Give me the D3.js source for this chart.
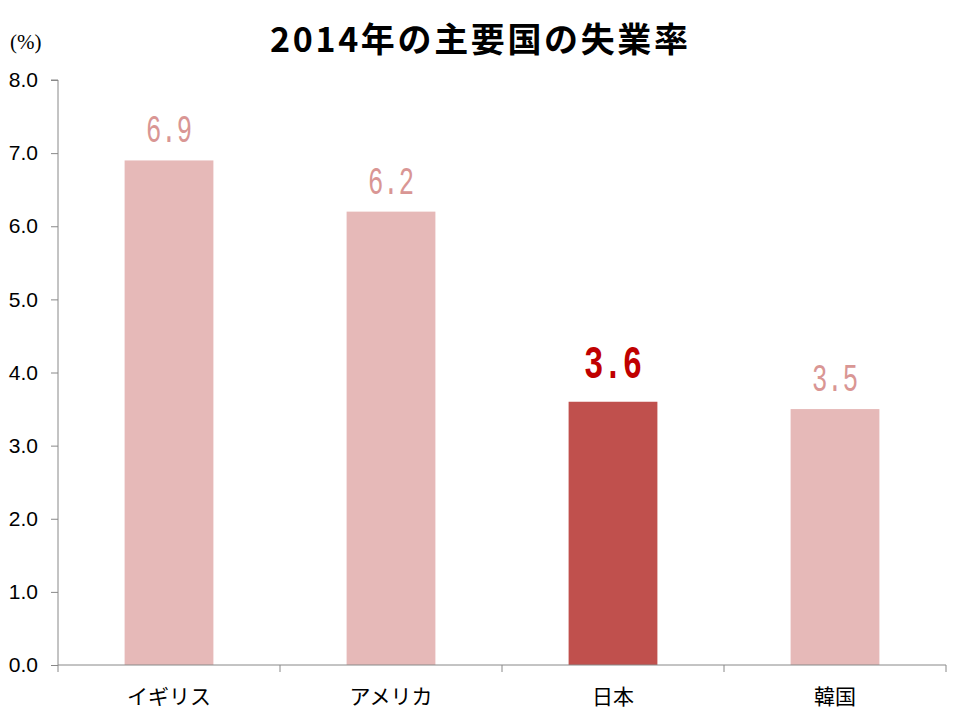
<!DOCTYPE html>
<html><head><meta charset="utf-8">
<script src="https://cdn.jsdelivr.net/npm/d3@7"></script>
<style>body{margin:0;background:#fff}</style>
</head><body>
<svg id="c" width="960" height="720"></svg>
<script>
const categories = ["イギリス","アメリカ","日本","韓国"];
const values = [6.9, 6.2, 3.6, 3.5];
const highlight = [false, false, true, false];
const yTicks = [0,1,2,3,4,5,6,7,8];
const title = "2014年の主要国の失業率";
const unitLabel = "(%)";

const svg = d3.select("#c");
const x0 = 58, x1 = 946, yTop = 80, yBot = 665;
const x = d3.scaleBand().domain(categories).range([x0, x1]).paddingInner(0.6).paddingOuter(0.3);
const xb = d3.scaleBand().domain(categories).range([x0, x1]);
const y = d3.scaleLinear().domain([0, 8]).range([yBot, yTop]);
const axisCol = "#888888";

// title
svg.append("text").attr("x", 479).attr("y", 52).attr("text-anchor","middle")
  .attr("font-family","'Noto Sans CJK JP'").attr("font-weight","bold").attr("font-size",34)
  .attr("textLength",418).attr("lengthAdjust","spacing")
  .attr("fill","#000").text(title);
svg.append("text").attr("x", 10).attr("y", 49).attr("font-family","'Liberation Serif'")
  .attr("font-size",21).attr("fill","#000").text(unitLabel);

// y axis
const yAxis = d3.axisLeft(y).tickValues(yTicks).tickSize(7).tickPadding(13).tickFormat(d3.format(".1f"));
const gy = svg.append("g").attr("transform",`translate(${x0},0)`).call(yAxis);
gy.select(".domain").attr("stroke",axisCol).attr("d",`M-7,${yTop}H0V${yBot}`);
gy.selectAll(".tick line").attr("stroke",axisCol);
gy.selectAll(".tick text").attr("font-family","'Liberation Sans', Arial").attr("font-size",21).attr("fill","#000");

// bars
svg.selectAll("rect.bar").data(values).join("rect").attr("class","bar")
  .attr("x",(d,i)=>x(categories[i])).attr("width",x.bandwidth())
  .attr("y",d=>y(d)).attr("height",d=>yBot-y(d))
  .attr("fill",(d,i)=>highlight[i] ? "#c0504d" : "#e6b9b8");

// x axis
const gx = svg.append("g").attr("transform",`translate(0,${yBot})`);
gx.append("line").attr("x1",x0).attr("x2",x1).attr("stroke",axisCol);
const bounds = categories.map(c=>xb(c)).concat([x1]);
gx.selectAll("line.tk").data(bounds).join("line").attr("class","tk")
  .attr("x1",d=>d).attr("x2",d=>d).attr("y1",0).attr("y2",7).attr("stroke",axisCol);
gx.selectAll("text").data(categories).join("text")
  .attr("x",d=>xb(d)+xb.bandwidth()/2).attr("y",39).attr("text-anchor","middle")
  .attr("font-family","'Noto Sans CJK JP'").attr("font-size",21).attr("fill","#000").text(d=>d);

// value labels
svg.selectAll("text.val").data(values).join("text").attr("class","val")
  .attr("x",(d,i)=>x(categories[i])+x.bandwidth()/2)
  .attr("y",(d,i)=>y(d) - (highlight[i] ? 24 : 18))
  .attr("text-anchor","middle")
  .attr("font-family","'Liberation Mono', monospace")
  .attr("font-size",(d,i)=>highlight[i] ? 46 : 39)
  .attr("textLength",(d,i)=>highlight[i] ? 58 : 46)
  .attr("lengthAdjust","spacingAndGlyphs")
  .attr("font-weight",(d,i)=>highlight[i] ? "bold" : "normal")
  .attr("fill",(d,i)=>highlight[i] ? "#c00000" : "#d99694")
  .text(d=>d.toFixed(1));
</script>
</body></html>
